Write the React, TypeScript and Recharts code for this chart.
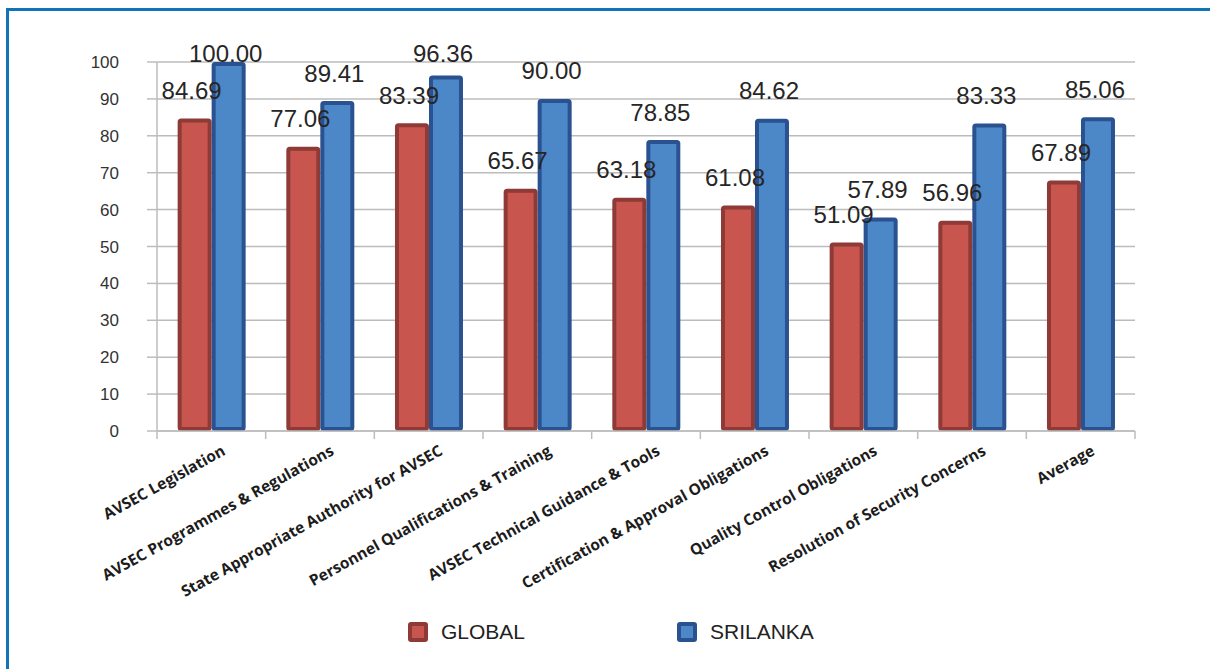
import { Bar, BarChart, CartesianGrid, LabelList, Legend, XAxis, YAxis } from "recharts";

const CATEGORIES = [
  "AVSEC Legislation",
  "AVSEC Programmes & Regulations",
  "State Appropriate Authority for AVSEC",
  "Personnel Qualifications & Training",
  "AVSEC Technical Guidance & Tools",
  "Certification & Approval Obligations",
  "Quality Control Obligations",
  "Resolution of Security Concerns",
  "Average",
];
const GLOBAL = [84.69, 77.06, 83.39, 65.67, 63.18, 61.08, 51.09, 56.96, 67.89];
const SRILANKA = [100.0, 89.41, 96.36, 90.0, 78.85, 84.62, 57.89, 83.33, 85.06];
const Y_TICKS = [0, 10, 20, 30, 40, 50, 60, 70, 80, 90, 100];

const SERIES = [
  { key: "global", name: "GLOBAL", fill: "#c9554f", stroke: "#8e3a37" },
  { key: "srilanka", name: "SRILANKA", fill: "#4c87c8", stroke: "#2a5190" },
];

const rows = CATEGORIES.map((name, i) => ({ name, global: GLOBAL[i], srilanka: SRILANKA[i] }));

const W = 1210;
const H = 669;
const PLOT_LEFT = 157;
const PLOT_RIGHT = 1135;
const PLOT_TOP = 62;
const PLOT_BOTTOM = 431;
const LEGEND_H = 26;
const X_AXIS_H = H - PLOT_BOTTOM - LEGEND_H;
const GRID = "#bcbcbc";

// bar with a thick darker outline kept inside the bar's own box
const OutlinedBar = (props: any) => {
  const { x, y, width, height, fill, stroke } = props;
  if (!height || height <= 0) return null;
  const sw = 4;
  return (
    <rect
      x={x + sw / 2}
      y={y + sw / 2}
      width={Math.max(width - sw, 0)}
      height={Math.max(height - sw, 0)}
      rx={1.5}
      fill={fill}
      stroke={stroke}
      strokeWidth={sw}
    />
  );
};

// value label floating above the bar, pushed down when it would leave the chart
const ValueLabel = (props: any) => {
  const { x, y, width, value } = props;
  const cx = Number(x) + Number(width) / 2 - 3;
  const cy = Math.max(Number(y) - 28, PLOT_TOP - 9);
  return (
    <text x={cx} y={cy + 8.5} textAnchor="middle" fontSize={24} fontFamily="'Liberation Sans', Arial, sans-serif" fill="#262626">
      {Number(value).toFixed(2)}
    </text>
  );
};

// slanted category label plus the tick marks between categories
const CategoryTick = (props: any) => {
  const { x, y, payload, index } = props;
  const half = payload?.offset || (PLOT_RIGHT - PLOT_LEFT) / CATEGORIES.length / 2;
  const last = index === CATEGORIES.length - 1;
  const tx = x + 15;
  const ty = y + 23;
  return (
    <g>
      <line x1={x - half} x2={x - half} y1={y} y2={y + 8} stroke={GRID} strokeWidth={1.5} />
      {last && <line x1={x + half} x2={x + half} y1={y} y2={y + 8} stroke={GRID} strokeWidth={1.5} />}
      <text
        x={tx}
        y={ty}
        textAnchor="end"
        transform={`rotate(-29, ${tx}, ${ty})`}
        fontSize={15.5}
        fontWeight={700}
        fontFamily="'Open Sans', sans-serif"
        fill="#1c1c1c"
      >
        {payload.value}
      </text>
    </g>
  );
};

const LegendContent = () => {
  const spots = [408, 677];
  return (
    <div style={{ position: "relative", width: W, height: LEGEND_H }}>
      {SERIES.map((s, i) => (
        <div
          key={s.key}
          style={{ position: "absolute", left: spots[i], top: 0, height: LEGEND_H, display: "flex", alignItems: "center" }}
        >
          <span
            style={{
              width: 12,
              height: 12,
              border: `4px solid ${s.stroke}`,
              borderRadius: 3,
              background: s.fill,
              display: "inline-block",
            }}
          />
          <span
            style={{
              marginLeft: 13,
              fontSize: 21,
              fontFamily: "'Liberation Sans', Arial, sans-serif",
              color: "#222",
            }}
          >
            {s.name}
          </span>
        </div>
      ))}
    </div>
  );
};

export default function App() {
  return (
    <div style={{ position: "fixed", left: 0, top: 0, width: W, height: H, overflow: "hidden", background: "#fff" }}>
      <div
        style={{
          position: "absolute",
          left: 6,
          top: 8,
          width: W + 40,
          height: H + 40,
          border: "3px solid #1174b6",
          boxSizing: "border-box",
        }}
      />
      <div style={{ position: "absolute", left: 0, top: 0 }}>
        <BarChart
          width={W}
          height={H}
          data={rows}
          margin={{ top: PLOT_TOP, right: W - PLOT_RIGHT, left: 0, bottom: 0 }}
          barGap={0}
          barCategoryGap="19%"
        >
          <CartesianGrid vertical={false} stroke={GRID} strokeWidth={1.5} />
          <XAxis
            dataKey="name"
            interval={0}
            height={X_AXIS_H}
            tickLine={false}
            tickSize={0}
            tickMargin={0}
            axisLine={{ stroke: GRID, strokeWidth: 1.5 }}
            tick={<CategoryTick />}
          />
          <YAxis
            width={PLOT_LEFT}
            domain={[0, 100]}
            ticks={Y_TICKS}
            interval={0}
            tickSize={10}
            tickMargin={28}
            axisLine={{ stroke: GRID, strokeWidth: 1.5 }}
            tickLine={{ stroke: GRID, strokeWidth: 1.5 }}
            tick={{ fontSize: 17, fill: "#333", fontFamily: "'Liberation Sans', Arial, sans-serif" }}
          />
          <Legend
            verticalAlign="bottom"
            content={<LegendContent />}
            wrapperStyle={{ left: 0, top: 619, width: W, height: LEGEND_H }}
          />
          {SERIES.map((s) => (
            <Bar
              key={s.key}
              dataKey={s.key}
              name={s.name}
              fill={s.fill}
              stroke={s.stroke}
              shape={<OutlinedBar />}
              isAnimationActive={false}
            >
              <LabelList dataKey={s.key} content={<ValueLabel />} />
            </Bar>
          ))}
        </BarChart>
      </div>
    </div>
  );
}
